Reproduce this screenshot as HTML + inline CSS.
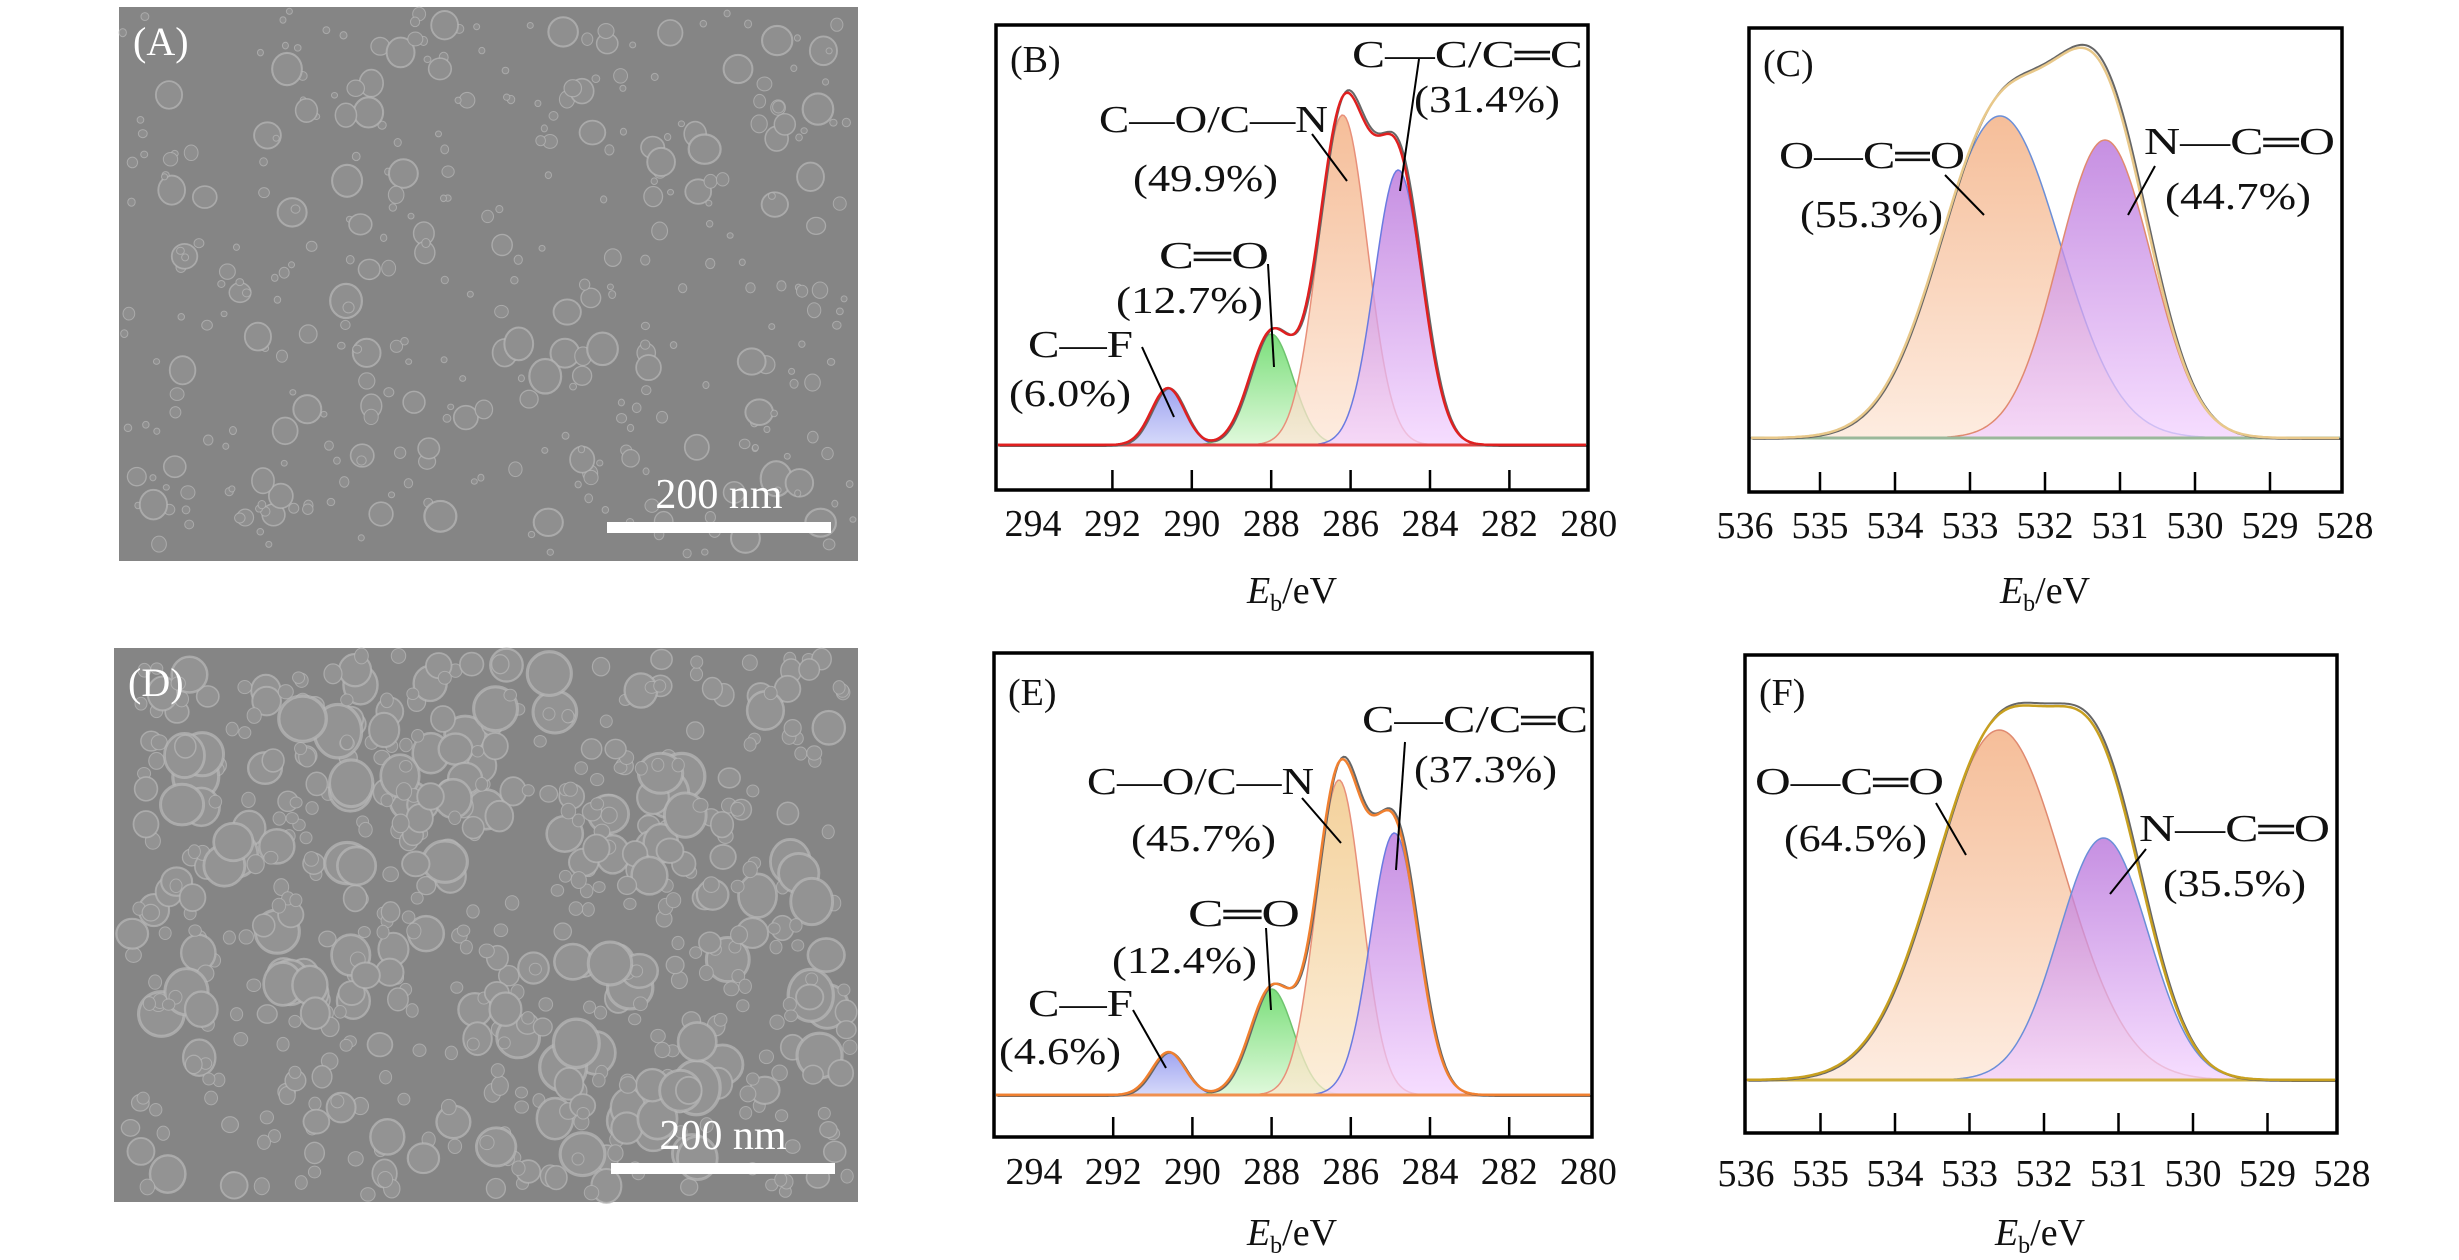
<!DOCTYPE html>
<html><head><meta charset="utf-8">
<style>
html,body{margin:0;padding:0;background:#fff;}
svg{display:block;}
svg text{font-family:"Liberation Serif","Times New Roman","DejaVu Serif",serif;}
</style></head>
<body>
<svg id="fig" width="2459" height="1260" viewBox="0 0 2459 1260" xmlns="http://www.w3.org/2000/svg">
<defs>
  <linearGradient id="gOr" x1="0" y1="0" x2="0" y2="1"><stop offset="0" stop-color="#f2a877"/><stop offset="1" stop-color="#fde6d6"/></linearGradient>
  <linearGradient id="gPu" x1="0" y1="0" x2="0" y2="1"><stop offset="0" stop-color="#b36ad8"/><stop offset="1" stop-color="#f3d2ff"/></linearGradient>
  <linearGradient id="gGr" x1="0" y1="0" x2="0" y2="1"><stop offset="0" stop-color="#4ed34e"/><stop offset="1" stop-color="#d6f7d0"/></linearGradient>
  <linearGradient id="gBl" x1="0" y1="0" x2="0" y2="1"><stop offset="0" stop-color="#7f86ec"/><stop offset="1" stop-color="#c9cdf8"/></linearGradient>
  <linearGradient id="gYe" x1="0" y1="0" x2="0" y2="1"><stop offset="0" stop-color="#f0c27a"/><stop offset="1" stop-color="#fbe9cf"/></linearGradient>
</defs>
<g id="semA"></g>
<g id="semD"></g>
<g id="plots"></g>
</svg>
<script>
// ---- chart data ----
const cTicks = [294, 292, 290, 288, 286, 284, 282, 280];
const oTicks = [536, 535, 534, 533, 532, 531, 530, 529, 528];
// Panel B (C1s)
const bNames = ["C—F", "C═O", "C—O/C—N", "C—C/C═C"];
const bCenters = [290.6, 288.0, 286.2, 284.8];
const bHeights = [57, 111, 330, 275];
const bSigmas = [0.42, 0.55, 0.62, 0.6];
// Panel C (O1s)
const cNames = ["O—C═O", "N—C═O"];
const cCenters = [532.6, 531.2];
const cHeights = [322, 298];
const cSigmas = [0.8, 0.62];
// Panel E (C1s)
const eCenters = [290.6, 288.0, 286.3, 284.9];
const eHeights = [43, 106, 315, 262];
const eSigmas = [0.42, 0.55, 0.58, 0.6];
// Panel F (O1s)
const fCenters = [532.6, 531.2];
const fHeights = [350, 242];
const fSigmas = [0.86, 0.6];

const NS = "http://www.w3.org/2000/svg";
const FONT = '"Liberation Serif","Times New Roman","DejaVu Serif",serif';
const plots = document.getElementById('plots');
function mk(tag, attrs, parent){
  const e = document.createElementNS(NS, tag);
  for (const k in attrs) e.setAttribute(k, attrs[k]);
  (parent || plots).appendChild(e);
  return e;
}
function txt(s, x, y, size, parent, extra){
  const t = mk('text', Object.assign({x:x, y:y, 'font-size':size, fill:'#111'}, extra||{}), parent);
  t.style.fontFamily = FONT;
  t.textContent = s;
  return t;
}
function gauss(v, c, h, s){ return h*Math.exp(-(v-c)*(v-c)/(2*s*s)); }

function panel(cfg){
  const g = mk('g', {});
  
  
  const xs = v => cfg.x0 + (cfg.v0 - v)*cfg.k;
  const ys = h => cfg.base - h;
  const pts = [];
  for (let px = cfg.bx0+2; px <= cfg.bx1-2; px += 2) pts.push(cfg.v0 - (px - cfg.x0)/cfg.k);
  cfg.centers.forEach((c, i) => {
    let d = '';
    pts.forEach((v, j) => { d += (j ? 'L' : 'M') + xs(v).toFixed(1) + ',' + ys(gauss(v, c, cfg.heights[i], cfg.sigmas[i])).toFixed(1); });
    d += 'L' + xs(pts[pts.length-1]) + ',' + cfg.base + 'L' + xs(pts[0]) + ',' + cfg.base + 'Z';
    const p = mk('path', {d:d, fill:cfg.fills[i], 'fill-opacity':0.75, stroke:cfg.strokes[i], 'stroke-width':1.5}, g);
    
    
  });
  const bl = mk('line', {x1:cfg.bx0+2, x2:cfg.bx1-2, y1:cfg.base, y2:cfg.base, stroke:cfg.baseCol, 'stroke-width':3}, g);
  
  
  let d = '', d2 = '';
  pts.forEach((v, j) => {
    let s = 0; cfg.centers.forEach((c, i) => s += gauss(v, c, cfg.heights[i], cfg.sigmas[i]));
    d += (j ? 'L' : 'M') + xs(v).toFixed(1) + ',' + ys(s).toFixed(1);
    d2 += (j ? 'L' : 'M') + (xs(v)+1.5).toFixed(1) + ',' + (ys(s*1.01)+1).toFixed(1);
  });
  const raw = mk('path', {d:d2, fill:'none', stroke:'#666', 'stroke-width':2}, g);
  
  
  const env = mk('path', {d:d, fill:'none', stroke:cfg.envCol, 'stroke-width':2.5}, g);
  
  
  const fr = mk('rect', {x:cfg.bx0, y:cfg.by0, width:cfg.bx1-cfg.bx0, height:cfg.by1-cfg.by0, fill:'none', stroke:'#000', 'stroke-width':3.5}, g);
  
  
  cfg.ticks.forEach((t, i) => {
    const x = xs(t);
    if (i > 0 && i < cfg.ticks.length-1) {
      const tk = mk('line', {x1:x, x2:x, y1:cfg.by1, y2:cfg.by1-20, stroke:'#000', 'stroke-width':2.5}, g);
      
      
    }
    const tl = txt(String(t), x, cfg.tickY, 38, g, {'text-anchor':'middle'});
    
    
  });
  const xt = mk('text', {x:cfg.titleX, y:cfg.titleY, 'font-size':38, 'text-anchor':'middle', fill:'#111'}, g);
  xt.style.fontFamily = FONT;
  
  
  xt.innerHTML = '<tspan font-style="italic">E</tspan><tspan font-size="24" dy="8">b</tspan><tspan dy="-8">/eV</tspan>';
  const pl = txt(cfg.letter, cfg.bx0+14, cfg.letterY, 38, g);
  
  
  cfg.ann.forEach(a => {
    const t = txt(a[0], a[1], a[2], 38, g, {textLength:a[3], lengthAdjust:'spacingAndGlyphs'});
    
    
  });
  cfg.leaders.forEach(l => {
    const ln = mk('line', {x1:l[0], y1:l[1], x2:l[2], y2:l[3], stroke:'#000', 'stroke-width':2}, g);
    
    
  });
}

const c4Fill = ['url(#gBl)', 'url(#gGr)', 'url(#gOr)', 'url(#gPu)'];
const c4Str = ['#4a55d8', '#6fc46f', '#e8907a', '#6a7be0'];

panel({name:'xps-c1s-panel-b', letter:'(B)', x0:1033, v0:294, k:39.7, bx0:996, bx1:1588, by0:25, by1:490, base:445,
  centers:bCenters, heights:bHeights, sigmas:bSigmas, labels:['c-f','c-o-double','c-o-c-n','c-c'],
  fills:c4Fill, strokes:c4Str, envCol:'#e02020', baseCol:'#e04040', ticks:cTicks, tickY:536, titleX:1292, titleY:603, letterY:72,
  ann:[['C—O/C—N',1099,132,229],['(49.9%)',1133,191,145],['C—C/C═C',1352,67,231],['(31.4%)',1414,112,146],
       ['C═O',1159,268,110],['(12.7%)',1116,313,147],['C—F',1028,357,105],['(6.0%)',1009,406,122]],
  leaders:[[1312,134,1347,181],[1419,59,1400,191],[1268,264,1274,367],[1142,347,1174,417]]});

panel({name:'xps-o1s-panel-c', letter:'(C)', x0:1745, v0:536, k:75, bx0:1749, bx1:2342, by0:28, by1:492, base:438,
  centers:cCenters, heights:cHeights, sigmas:cSigmas, labels:['o-c-o','n-c-o'],
  fills:['url(#gOr)','url(#gPu)'], strokes:['#6b8fd8','#e08a70'], envCol:'#e8c88a', baseCol:'#9ab89a', ticks:oTicks, tickY:538, titleX:2045, titleY:603, letterY:76,
  ann:[['O—C═O',1779,168,186],['(55.3%)',1800,227,143],['N—C═O',2144,154,191],['(44.7%)',2165,209,146]],
  leaders:[[1945,175,1984,215],[2155,166,2128,215]]});

panel({name:'xps-c1s-panel-e', letter:'(E)', x0:1034, v0:294, k:39.6, bx0:994, bx1:1592, by0:653, by1:1137, base:1095,
  centers:eCenters, heights:eHeights, sigmas:eSigmas, labels:['c-f','c-o-double','c-o-c-n','c-c'],
  fills:['url(#gBl)','url(#gGr)','url(#gYe)','url(#gPu)'], strokes:['#4a55d8','#6fc46f','#e8907a','#6a7be0'], envCol:'#f08030', baseCol:'#f09050', ticks:cTicks, tickY:1184, titleX:1292, titleY:1245, letterY:705,
  ann:[['C—O/C—N',1087,794,227],['(45.7%)',1131,851,145],['C—C/C═C',1362,732,226],['(37.3%)',1414,782,143],
       ['C═O',1188,926,112],['(12.4%)',1112,973,145],['C—F',1028,1016,105],['(4.6%)',999,1064,122]],
  leaders:[[1302,798,1341,843],[1405,742,1396,870],[1266,928,1271,1010],[1133,1010,1166,1068]]});

panel({name:'xps-o1s-panel-f', letter:'(F)', x0:1746, v0:536, k:74.5, bx0:1745, bx1:2337, by0:655, by1:1133, base:1080,
  centers:fCenters, heights:fHeights, sigmas:fSigmas, labels:['o-c-o','n-c-o'],
  fills:['url(#gOr)','url(#gPu)'], strokes:['#e08a70','#6b8fd8'], envCol:'#c8a020', baseCol:'#d0b040', ticks:oTicks, tickY:1186, titleX:2040, titleY:1245, letterY:705,
  ann:[['O—C═O',1755,794,189],['(64.5%)',1784,851,143],['N—C═O',2139,841,191],['(35.5%)',2163,896,143]],
  leaders:[[1936,803,1966,855],[2146,849,2110,894]]});

// ---- SEM micrograph textures (decorative, deterministic) ----
function sem(gid, x, y, w, h, label, barX, barY, count, rMin, rMax, seed, pFill){
  const g = document.getElementById(gid);
  let s = seed;
  const rnd = () => { s = (s*16807) % 2147483647; return s/2147483647; };
  mk('rect', {x:x, y:y, width:w, height:h, fill:'#858585'}, g);
  for (let i = 0; i < count; i++) {
    const r = rMin + Math.pow(rnd(), 3)*(rMax-rMin);
    const cx = x + rnd()*w, cy = y + rnd()*h;
    if (cx-r < x || cx+r > x+w || cy-r < y || cy+r > y+h) continue;
    mk('ellipse', {cx:cx, cy:cy, rx:r, ry:r*(0.9+rnd()*0.25), fill:pFill, stroke:'#b8b8b8', 'stroke-width':Math.max(1, r*0.14), 'stroke-opacity':0.7}, g);
  }
  const t = txt(label, x+14, y+48, 40, g, {fill:'#fff'});
  
  
  const bar = mk('rect', {x:barX, y:barY, width:224, height:11, fill:'#fff'}, g);
  
  
  const st = txt('200 nm', barX+112, barY-14, 42, g, {'text-anchor':'middle', fill:'#fff'});
  
  
}
sem('semA', 119, 7, 739, 554, '(A)', 607, 522, 380, 3, 16, 12345, '#8f8f8f');
sem('semD', 114, 648, 744, 554, '(D)', 611, 1163, 650, 6, 24, 67891, '#939393');
</script>
</body></html>
